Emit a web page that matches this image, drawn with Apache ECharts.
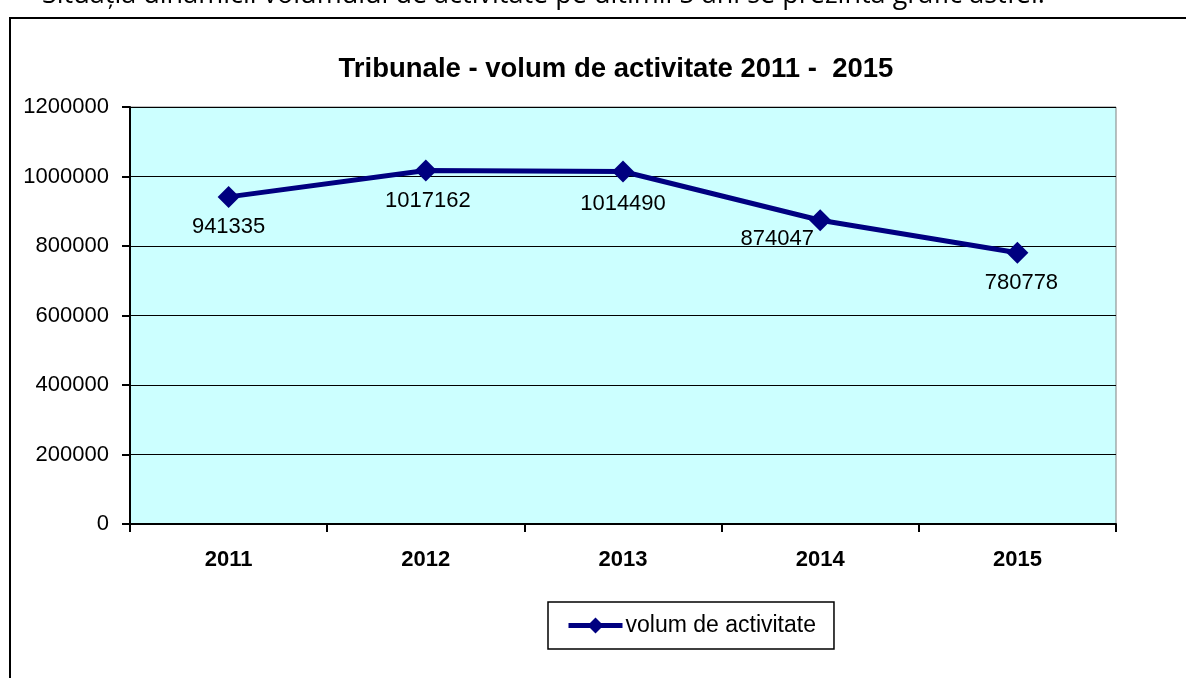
<!DOCTYPE html>
<html>
<head>
<meta charset="utf-8">
<script src="https://cdn.jsdelivr.net/npm/echarts@6/dist/echarts.min.js"></script>
<style>
  html, body { margin: 0; padding: 0; background: #fff; }
  #chart { width: 1186px; height: 678px; }
</style>
</head>
<body>
<div id="chart"></div>
<script>
// Tribunale - volum de activitate, line chart (Excel-style)
var years = ["2011", "2012", "2013", "2014", "2015"];
var volum = [941335, 1017162, 1014490, 874047, 780778];
// per-point label nudges so labels sit like in the original
var labelOffsets = [[0, 0], [2, 0], [0, 2], [-43, -11], [4, 0]];
var seriesName = "volum de activitate";
var pageText = "Situația dinamicii volumului de activitate pe ultimii 5 ani se prezintă grafic astfel:";

(function () {
  var chart = echarts.init(document.getElementById("chart"), null, { renderer: "canvas" });
  var font = "Liberation Sans, Arial, sans-serif";

  chart.setOption({
    animation: false,
    backgroundColor: "#ffffff",
    title: {
      text: "Tribunale - volum de activitate 2011 -  2015",
      left: 611,
      textAlign: "center",
      top: 50,
      textStyle: { fontFamily: font, fontSize: 27.5, fontWeight: "bold", color: "#000" }
    },
    graphic: [
      {
        type: "rect",
        shape: { x: 10, y: 18, width: 1200, height: 700 },
        style: { fill: null, stroke: "#000", lineWidth: 2 },
        silent: true
      },
      {
        type: "text",
        left: 42,
        top: -18,
        style: { text: pageText, fontFamily: "Open Sans, sans-serif", fontSize: 27, fill: "#000" },
        silent: true
      }
    ],
    legend: {
      data: [seriesName],
      left: 548,
      top: 602,
      width: 284,
      height: 50,
      padding: [12, 18, 12, 18],
      borderColor: "#000",
      borderWidth: 1.5,
      itemWidth: 54,
      itemHeight: 20,
      itemGap: 0,
      lineStyle: { width: 5 },
      textStyle: { fontFamily: font, fontSize: 23, color: "#000", padding: [0, 0, 0, -2] }
    },
    grid: {
      left: 130,
      right: 70,
      top: 107,
      bottom: 154,
      show: true,
      backgroundColor: "#CCFFFF",
      borderColor: "#808080",
      borderWidth: 1
    },
    xAxis: {
      type: "category",
      data: years,
      boundaryGap: true,
      axisLine: { lineStyle: { color: "#000", width: 2 } },
      axisTick: { show: true, length: 8, lineStyle: { color: "#000", width: 2 } },
      axisLabel: { fontFamily: font, fontSize: 22, fontWeight: "bold", color: "#000", margin: 25 }
    },
    yAxis: {
      type: "value",
      min: 0,
      max: 1200000,
      interval: 200000,
      axisLine: { show: true, lineStyle: { color: "#000", width: 2 } },
      axisTick: { show: true, length: 8, lineStyle: { color: "#000", width: 2 } },
      splitLine: { lineStyle: { color: "#000", width: 1 } },
      axisLabel: {
        fontFamily: font,
        fontSize: 22,
        color: "#000",
        margin: 21,
        formatter: function (v) { return String(v); }
      }
    },
    series: [
      {
        name: seriesName,
        type: "line",
        data: volum.map(function (v, i) {
          return {
            value: v,
            label: { offset: labelOffsets[i] }
          };
        }),
        symbol: "diamond",
        symbolSize: 22,
        lineStyle: { color: "#000080", width: 5 },
        itemStyle: { color: "#000080" },
        label: {
          show: true,
          position: "bottom",
          distance: 8,
          fontFamily: font,
          fontSize: 22,
          color: "#000"
        }
      }
    ]
  });
})();
</script>
</body>
</html>
